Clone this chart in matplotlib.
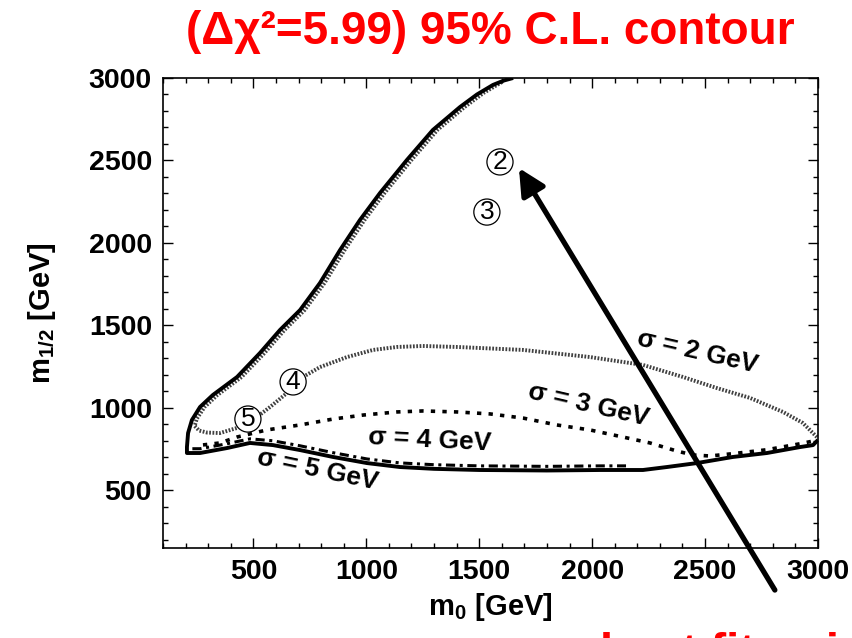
import matplotlib
matplotlib.use('Agg')
import matplotlib.pyplot as plt
from matplotlib.ticker import MultipleLocator
import numpy as np

plt.rcParams['font.family'] = ['Liberation Sans', 'DejaVu Sans']
plt.rcParams['font.weight'] = 'bold'
plt.rcParams['mathtext.fontset'] = 'custom'
plt.rcParams['mathtext.rm'] = 'Liberation Sans:bold'
plt.rcParams['mathtext.it'] = 'Liberation Sans:bold'
plt.rcParams['mathtext.bf'] = 'Liberation Sans:bold'

# 95% C.L. outer contour (m0, m1/2) in GeV
cl95_m0 = [1650, 1610, 1561, 1490, 1415, 1295, 1180, 1061, 972, 884, 795, 707, 618, 529, 428, 321, 264,
           228, 211, 206, 206, 264, 383, 485, 587, 706, 853, 1003, 1149, 1300, 1500, 1800,
           2035, 2225, 2331, 2464, 2623, 2774, 2920, 2978, 3000]
cl95_m12 = [3000, 2985, 2958, 2900, 2824, 2685, 2503, 2303, 2139, 1957, 1757, 1593, 1472, 1332, 1187, 1078, 1005,
            926, 847, 762, 726, 726, 756, 787, 774, 744, 702, 665, 641, 630, 623, 620,
            623, 623, 641, 665, 702, 726, 762, 774, 805]

# sigma = 2 GeV contour
s2_m0 = [1600, 1520, 1435, 1315, 1200, 1081, 992, 904, 815, 727, 638, 549, 448, 341, 284, 250, 240,
         260, 295, 352, 428, 498, 574, 649, 720, 795, 915, 1030, 1136, 1250, 1402, 1694, 1990,
         2225, 2402, 2552, 2699, 2845, 2933, 2995]
s2_m12 = [2975, 2910, 2824, 2685, 2503, 2303, 2139, 1957, 1757, 1593, 1472, 1332, 1187, 1078, 1005, 935, 890,
          862, 850, 847, 878, 926, 1005, 1090, 1187, 1247, 1308, 1351, 1369, 1375, 1369, 1351, 1308,
          1260, 1187, 1120, 1060, 975, 908, 823]

# sigma = 3 GeV contour
s3_m0 = [277, 352, 428, 560, 706, 853, 985, 1136, 1251, 1402, 1548, 1694, 1844, 1990, 2136, 2256,
         2375, 2446, 2521, 2623, 2774, 2920, 2990]
s3_m12 = [775, 787, 823, 866, 896, 932, 956, 975, 981, 975, 963, 938, 896, 866, 823, 787,
          738, 714, 708, 722, 746, 782, 802]

# sigma = 4 GeV contour
s4_m0 = [230, 264, 383, 485, 587, 706, 853, 1003, 1149, 1300, 1500, 1800, 2035, 2150]
s4_m12 = [752, 752, 782, 812, 800, 770, 728, 690, 666, 655, 648, 645, 648, 648]

# circled benchmark points
pt_labels = ['2', '3', '4', '5']
pt_m0 = [1592, 1534, 676, 476]
pt_m12 = [2491, 2187, 1157, 932]

# contour labels
lab_text = ['σ = 2 GeV', 'σ = 3 GeV', 'σ = 4 GeV', 'σ = 5 GeV']
lab_m0 = [2468, 1982, 1282, 786]
lab_m12 = [1338, 1017, 805, 623]
lab_rot = [-13, -13, -3, -12]

fig = plt.figure(figsize=(8.52, 6.38), dpi=100)
ax = fig.add_axes([163/852, 1-548/638, (818-163)/852, (548-78)/638])

ax.plot(s2_m0, s2_m12, color='0.25', lw=2.8, ls=(0, (0.45, 0.4)))
ax.plot(s3_m0, s3_m12, color='k', lw=2.6, ls=(0, (1.2, 2.0)))
ax.plot(s4_m0, s4_m12, color='k', lw=2.2, ls=(0, (3, 1.5, 1, 1.5)))
ax.plot(cl95_m0, cl95_m12, color='k', lw=2.8, solid_capstyle='butt', solid_joinstyle='round')

for t, x, y in zip(pt_labels, pt_m0, pt_m12):
    ax.text(x, y, t, ha='center', va='center', fontsize=19, fontweight='normal',
            bbox=dict(boxstyle='circle,pad=0.04', fc='white', ec='k', lw=0.9))

for t, x, y, r in zip(lab_text, lab_m0, lab_m12, lab_rot):
    ax.text(x, y, t, ha='center', va='center', rotation=r, rotation_mode='anchor',
            fontsize=19)

ax.annotate('', xy=(1676, 2454), xytext=(2809, -105), annotation_clip=False,
            arrowprops=dict(arrowstyle='-|>,head_length=0.8,head_width=0.4', lw=3.8,
                            color='k', mutation_scale=20, shrinkA=0, shrinkB=0))

ax.set_xlim(100, 3000)
ax.set_ylim(150, 3000)
ax.xaxis.set_major_locator(MultipleLocator(500))
ax.yaxis.set_major_locator(MultipleLocator(500))
ax.xaxis.set_minor_locator(MultipleLocator(100))
ax.yaxis.set_minor_locator(MultipleLocator(100))
ax.tick_params(which='both', direction='in', top=True, right=True, width=1)
ax.tick_params(which='major', length=7, labelsize=20.5, pad=8)
ax.tick_params(which='minor', length=3.5)
for s in ax.spines.values():
    s.set_linewidth(1.2)

ax.set_xlabel(r'$\mathrm{m_0\ [GeV]}$', fontsize=21, labelpad=4)
ax.set_ylabel(r'$\mathrm{m_{1/2}\ [GeV]}$', fontsize=21, labelpad=22)

fig.text(490/852, 1-32/638, '(Δχ²=5.99) 95% C.L. contour', color='red', fontsize=33,
         fontweight='bold', ha='center', va='center')
fig.text(600/852, 1-666/638, 'best fit point', color='red', fontsize=34,
         fontweight='bold', ha='left', va='baseline')

fig.savefig('out.png', dpi=100)
